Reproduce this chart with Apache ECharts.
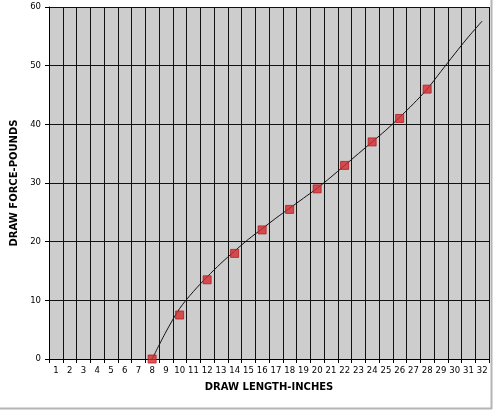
<!DOCTYPE html>
<html>
<head>
<meta charset="utf-8">
<script src="https://cdn.jsdelivr.net/npm/echarts@6/dist/echarts.min.js"></script>
<style>
  html, body { margin: 0; padding: 0; background: #fff; }
  #chart { width: 494px; height: 411px; }
</style>
</head>
<body>
<div id="chart"></div>
<script>
// x categories (draw length, inches)
const lengths = ['1', '2', '3', '4', '5', '6', '7', '8', '9', '10', '11', '12', '13', '14', '15', '16',
  '17', '18', '19', '20', '21', '22', '23', '24', '25', '26', '27', '28', '29', '30', '31', '32']

// measured points
const measuredLength = ['8', '10', '12', '14', '16', '18', '20', '22', '24', '26', '28']
const measuredForce = [0, 7.5, 13.5, 18, 22, 25.5, 29, 33, 37, 41, 46]

// trend curve
const trendLength = ['8', '9', '10', '11', '12', '13', '14', '15', '16', '17', '18', '19', '20',
  '21', '22', '23', '24', '25', '26', '27', '28', '29', '30', '31', '32']
const trendForce = [0, 4.6, 8.6, 11.5, 14.0, 16.3, 18.4, 20.4, 22.2, 24.0, 25.7, 27.4, 29.1,
  31.0, 33.0, 35.0, 37.0, 39.0, 41.2, 43.5, 46.0, 49.0, 52.0, 54.9, 57.6]

const yTicks = { min: 0, max: 60, interval: 10 }

const font = 'Verdana, "DejaVu Sans", sans-serif'

const chart = echarts.init(document.getElementById('chart'), null, { renderer: 'canvas' })

chart.setOption({
  animation: false,
  backgroundColor: '#fff',
  grid: {
    show: true,
    left: 49,
    right: 5,
    top: 7,
    bottom: 52,
    backgroundColor: '#cdcdcd',
    borderWidth: 0
  },
  xAxis: {
    type: 'category',
    data: lengths,
    boundaryGap: true,
    name: 'DRAW LENGTH-INCHES',
    nameLocation: 'middle',
    nameGap: 23,
    nameTextStyle: { fontFamily: font, fontWeight: 'bold', fontSize: 10, color: '#000' },
    axisLine: { lineStyle: { color: '#000', width: 1 } },
    axisTick: { show: true, length: 4, interval: 0, lineStyle: { color: '#000' } },
    axisLabel: { interval: 0, margin: 7, fontFamily: font, fontSize: 8.5, color: '#000' },
    splitLine: { show: true, interval: 0, lineStyle: { color: '#111', width: 1 } }
  },
  yAxis: {
    type: 'value',
    min: yTicks.min,
    max: yTicks.max,
    interval: yTicks.interval,
    name: 'DRAW FORCE-POUNDS',
    nameLocation: 'middle',
    nameRotate: 90,
    nameGap: 22,
    nameTextStyle: { fontFamily: font, fontWeight: 'bold', fontSize: 10, color: '#000' },
    axisLine: { show: true, lineStyle: { color: '#000', width: 1 } },
    axisTick: { show: true, length: 4, lineStyle: { color: '#000' } },
    axisLabel: { margin: 8, fontFamily: font, fontSize: 8.5, color: '#000' },
    splitLine: { show: true, lineStyle: { color: '#111', width: 1 } }
  },
  graphic: [
    { type: 'line', silent: true, shape: { x1: 491.5, y1: 0, x2: 491.5, y2: 409 }, style: { stroke: '#b4b4b4', lineWidth: 2 } },
    { type: 'line', silent: true, shape: { x1: 0, y1: 408.5, x2: 492, y2: 408.5 }, style: { stroke: '#b4b4b4', lineWidth: 2 } }
  ],
  series: [
    {
      name: 'trend',
      type: 'line',
      data: trendLength.map((x, i) => [x, trendForce[i]]),
      smooth: 0.3,
      showSymbol: false,
      lineStyle: { color: '#111', width: 1 },
      z: 3
    },
    {
      name: 'measured',
      type: 'scatter',
      data: measuredLength.map((x, i) => [x, measuredForce[i]]),
      symbol: 'rect',
      symbolSize: 8,
      itemStyle: { color: '#d42a2e', borderColor: '#b01e22', borderWidth: 1 },
      z: 4
    }
  ]
})
</script>
</body>
</html>
